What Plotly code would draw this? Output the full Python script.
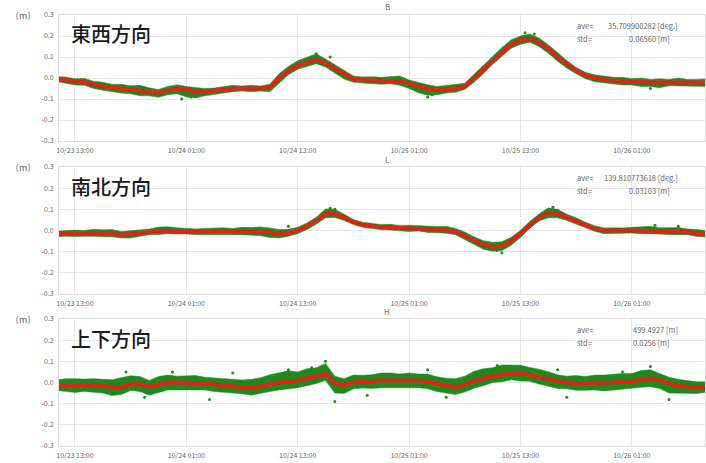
import pandas as pd
import plotly.graph_objects as go

# ---------------- data (hourly, from 10/23 11:00 to 10/26 09:00) ----------------
start_time = "2018-10-23 11:00"
n_hours = 71

panel_titles = ["B", "L", "H"]
panel_labels = ["東西方向", "南北方向", "上下方向"]
ave_texts = ["35.709900282 [deg.]", "139.810773618 [deg.]", "499.4927 [m]"]
std_texts = ["0.06560 [m]", "0.03103 [m]", "0.0256 [m]"]

# smoothed (red) series, metres
ew_smooth = [-0.005, -0.01, -0.015, -0.02, -0.03, -0.04, -0.045, -0.05, -0.055, -0.06, -0.065, -0.07,
             -0.06, -0.05, -0.055, -0.065, -0.065, -0.06, -0.055, -0.05, -0.05, -0.05, -0.05, -0.045,
             0.0, 0.035, 0.06, 0.075, 0.088, 0.07, 0.045, 0.015, -0.005, -0.01, -0.012, -0.012,
             -0.012, -0.015, -0.025, -0.04, -0.052, -0.055, -0.052, -0.05, -0.04, 0.0, 0.04, 0.085,
             0.125, 0.16, 0.18, 0.188, 0.17, 0.14, 0.1, 0.065, 0.035, 0.012, 0.0, -0.008,
             -0.012, -0.015, -0.018, -0.02, -0.022, -0.022, -0.022, -0.02, -0.022, -0.022, -0.022]
ns_smooth = [-0.015, -0.015, -0.013, -0.012, -0.012, -0.012, -0.015, -0.02, -0.018, -0.012, -0.008, -0.004,
             0.0, -0.002, -0.004, -0.005, -0.005, -0.004, -0.005, -0.005, -0.005, -0.004, -0.005, -0.008,
             -0.015, -0.012, 0.0, 0.02, 0.045, 0.08, 0.08, 0.062, 0.04, 0.027, 0.02, 0.016,
             0.014, 0.012, 0.01, 0.01, 0.006, 0.004, 0.002, -0.005, -0.025, -0.045, -0.068, -0.078,
             -0.073, -0.05, -0.015, 0.025, 0.06, 0.085, 0.08, 0.062, 0.045, 0.027, 0.008, 0.0,
             -0.002, 0.0, 0.0, 0.0, 0.0, -0.002, -0.005, -0.006, -0.008, -0.013, -0.016]
ud_smooth = [-0.012, -0.012, -0.012, -0.012, -0.012, -0.015, -0.022, -0.022, -0.008, -0.007, -0.02, -0.012,
             0.0, 0.0, 0.0, -0.002, -0.005, -0.008, -0.012, -0.018, -0.023, -0.025, -0.018, -0.008,
             0.0, 0.005, 0.01, 0.02, 0.03, 0.04, -0.005, -0.012, 0.0, 0.004, 0.007, 0.01,
             0.01, 0.01, 0.01, 0.01, 0.005, -0.003, -0.015, -0.022, -0.01, 0.008, 0.02, 0.03,
             0.038, 0.043, 0.042, 0.036, 0.028, 0.016, 0.007, 0.0, -0.002, -0.002, 0.0, 0.0,
             0.0, 0.003, 0.007, 0.012, 0.02, 0.012, -0.005, -0.015, -0.02, -0.022, -0.022]

# spread of the raw (green) points above / below the smoothed line, metres
ew_up = [0.012, 0.015, 0.012, 0.018, 0.015, 0.02, 0.015, 0.02, 0.018, 0.025, 0.018, 0.015,
         0.02, 0.018, 0.015, 0.02, 0.015, 0.012, 0.015, 0.015, 0.012, 0.015, 0.012, 0.015,
         0.02, 0.02, 0.022, 0.025, 0.028, 0.02, 0.018, 0.02, 0.015, 0.015, 0.018, 0.015,
         0.02, 0.025, 0.015, 0.018, 0.02, 0.015, 0.018, 0.02, 0.015, 0.018, 0.02, 0.02,
         0.02, 0.022, 0.02, 0.022, 0.02, 0.018, 0.02, 0.018, 0.015, 0.015, 0.015, 0.018,
         0.015, 0.018, 0.015, 0.02, 0.015, 0.018, 0.015, 0.02, 0.015, 0.015, 0.018]
ew_dn = [0.012, 0.015, 0.018, 0.015, 0.02, 0.018, 0.02, 0.022, 0.02, 0.025, 0.02, 0.022,
         0.02, 0.025, 0.035, 0.03, 0.02, 0.018, 0.015, 0.015, 0.012, 0.015, 0.012, 0.02,
         0.025, 0.02, 0.018, 0.02, 0.02, 0.018, 0.02, 0.02, 0.015, 0.015, 0.015, 0.018,
         0.015, 0.02, 0.025, 0.03, 0.03, 0.025, 0.02, 0.018, 0.015, 0.02, 0.02, 0.02,
         0.02, 0.018, 0.02, 0.018, 0.02, 0.022, 0.02, 0.018, 0.015, 0.015, 0.018, 0.015,
         0.015, 0.018, 0.015, 0.02, 0.018, 0.025, 0.015, 0.018, 0.015, 0.015, 0.018]
ns_up = [0.012, 0.015, 0.015, 0.012, 0.018, 0.015, 0.02, 0.015, 0.018, 0.015, 0.015, 0.02,
         0.018, 0.015, 0.015, 0.012, 0.015, 0.015, 0.018, 0.015, 0.02, 0.018, 0.022, 0.02,
         0.02, 0.018, 0.015, 0.015, 0.018, 0.022, 0.02, 0.015, 0.012, 0.012, 0.015, 0.012,
         0.015, 0.012, 0.015, 0.012, 0.015, 0.015, 0.018, 0.015, 0.018, 0.015, 0.02, 0.022,
         0.02, 0.018, 0.015, 0.018, 0.018, 0.022, 0.02, 0.015, 0.015, 0.012, 0.015, 0.012,
         0.015, 0.012, 0.015, 0.018, 0.02, 0.015, 0.018, 0.02, 0.015, 0.018, 0.015]
ns_dn = [0.015, 0.012, 0.015, 0.015, 0.015, 0.018, 0.015, 0.015, 0.018, 0.015, 0.012, 0.015,
         0.015, 0.015, 0.012, 0.015, 0.015, 0.015, 0.015, 0.012, 0.015, 0.018, 0.02, 0.025,
         0.02, 0.015, 0.015, 0.015, 0.015, 0.02, 0.018, 0.015, 0.012, 0.012, 0.012, 0.012,
         0.012, 0.012, 0.015, 0.012, 0.015, 0.015, 0.015, 0.015, 0.018, 0.02, 0.02, 0.02,
         0.022, 0.02, 0.018, 0.015, 0.015, 0.025, 0.02, 0.015, 0.015, 0.012, 0.012, 0.015,
         0.012, 0.015, 0.012, 0.015, 0.015, 0.015, 0.015, 0.015, 0.012, 0.015, 0.015]
ud_up = [0.025, 0.03, 0.03, 0.028, 0.03, 0.03, 0.035, 0.045, 0.04, 0.035, 0.03, 0.04,
         0.035, 0.03, 0.03, 0.035, 0.03, 0.03, 0.03, 0.035, 0.035, 0.04, 0.04, 0.045,
         0.045, 0.05, 0.04, 0.045, 0.04, 0.05, 0.035, 0.03, 0.035, 0.03, 0.03, 0.035,
         0.035, 0.03, 0.035, 0.03, 0.035, 0.03, 0.035, 0.04, 0.04, 0.045, 0.045, 0.04,
         0.045, 0.04, 0.04, 0.035, 0.035, 0.035, 0.03, 0.03, 0.035, 0.03, 0.035, 0.035,
         0.04, 0.04, 0.035, 0.045, 0.04, 0.03, 0.03, 0.03, 0.03, 0.025, 0.025]
ud_dn = [0.025, 0.03, 0.035, 0.03, 0.035, 0.035, 0.04, 0.035, 0.03, 0.035, 0.04, 0.035,
         0.035, 0.035, 0.035, 0.035, 0.03, 0.035, 0.035, 0.03, 0.03, 0.035, 0.035, 0.035,
         0.035, 0.035, 0.035, 0.035, 0.035, 0.03, 0.045, 0.04, 0.03, 0.03, 0.035, 0.035,
         0.035, 0.035, 0.035, 0.035, 0.035, 0.04, 0.035, 0.035, 0.035, 0.035, 0.035, 0.03,
         0.035, 0.03, 0.035, 0.03, 0.035, 0.035, 0.035, 0.03, 0.035, 0.035, 0.035, 0.04,
         0.035, 0.035, 0.035, 0.035, 0.04, 0.04, 0.045, 0.035, 0.03, 0.03, 0.025]

# isolated raw points lying outside the main band (hours after 10/23 00:00, metres)
ew_out_h = [24.5, 25.5, 39.0, 40.5, 51.0, 51.5, 61.5, 62.5, 75.0]
ew_out_v = [-0.10, -0.09, 0.115, 0.10, -0.09, -0.08, 0.215, 0.21, -0.05]
ns_out_h = [36.0, 40.5, 41.0, 58.5, 59.0, 64.5, 65.0, 75.5, 78.0]
ns_out_v = [0.02, 0.105, 0.10, -0.095, -0.105, 0.11, 0.095, 0.025, 0.02]
ud_out_h = [18.5, 20.5, 23.5, 27.5, 30.0, 36.0, 38.5, 40.0, 41.0, 44.5, 51.0, 53.0,
            58.5, 61.0, 65.0, 66.0, 72.0, 75.0, 77.0]
ud_out_v = [0.05, -0.07, 0.05, -0.08, 0.045, 0.06, 0.07, 0.10, -0.09, -0.06, 0.06, -0.07,
            0.08, 0.075, 0.06, -0.07, 0.05, 0.075, -0.08]

x_tick_vals = ["2018-10-23 13:00", "2018-10-24 01:00", "2018-10-24 13:00",
               "2018-10-25 01:00", "2018-10-25 13:00", "2018-10-26 01:00"]
x_tick_text = ["10/23 13:00", "10/24 01:00", "10/24 13:00",
               "10/25 01:00", "10/25 13:00", "10/26 01:00"]
y_tick_vals = [0.3, 0.2, 0.1, 0.0, -0.1, -0.2, -0.3]
y_tick_text = ["0.3", "0.2", "0.1", "0.0", "-0.1", "-0.2", "-0.3"]
x_range = ["2018-10-23 11:17", "2018-10-26 08:53"]
unit_text = "（m）"

# ---------------- figure ----------------
W, H = 706, 463
ML, MR, MT, MB = 59, 1, 15, 17
PW, PH = W - ML - MR, H - MT - MB


def px(x):
    return (x - ML) / PW


def py(y):
    return (H - MB - y) / PH


times = pd.date_range(start_time, periods=n_hours, freq="h")
day0 = pd.Timestamp("2018-10-23 00:00")
smooths = [ew_smooth, ns_smooth, ud_smooth]
ups = [ew_up, ns_up, ud_up]
dns = [ew_dn, ns_dn, ud_dn]
outs = [(ew_out_h, ew_out_v), (ns_out_h, ns_out_v), (ud_out_h, ud_out_v)]
domains_px = [(15, 141), (167, 294), (319, 446)]

GREEN = "#1e8a1e"
RED = "#dc2418"
GRID = "#e6e6e6"
TXT = "#666666"
FONT = "Noto Sans CJK JP"

fig = go.Figure()
annotations = []
for i in range(3):
    ax = "" if i == 0 else str(i + 1)
    xa, ya = "x" + ax, "y" + ax
    hi = [s + u for s, u in zip(smooths[i], ups[i])]
    lo = [s - d for s, d in zip(smooths[i], dns[i])]
    fig.add_trace(go.Scatter(x=times, y=lo, mode="lines", line=dict(width=0.5, color=GREEN),
                             xaxis=xa, yaxis=ya, showlegend=False, hoverinfo="skip"))
    fig.add_trace(go.Scatter(x=times, y=hi, mode="lines", line=dict(width=0.5, color=GREEN),
                             fill="tonexty", fillcolor=GREEN,
                             xaxis=xa, yaxis=ya, showlegend=False, hoverinfo="skip"))
    oh, ov = outs[i]
    fig.add_trace(go.Scatter(x=[day0 + pd.Timedelta(hours=h) for h in oh], y=ov, mode="markers",
                             marker=dict(size=3, color=GREEN),
                             xaxis=xa, yaxis=ya, showlegend=False, hoverinfo="skip"))
    fig.add_trace(go.Scatter(x=times, y=smooths[i], mode="lines", line=dict(width=4, color=RED),
                             xaxis=xa, yaxis=ya, showlegend=False))
    top, bot = domains_px[i]
    common = dict(showgrid=True, gridcolor=GRID, gridwidth=1, zeroline=False,
                  showline=True, linecolor="#dddddd", linewidth=1, mirror=True,
                  ticks="", tickfont=dict(size=7, color=TXT, family=FONT))
    fig.update_layout(**{
        "xaxis" + ax: dict(domain=[0, 1], anchor=ya, type="date", range=x_range,
                           tickmode="array", tickvals=x_tick_vals, ticktext=x_tick_text,
                           ticklabelstandoff=3, **common),
        "yaxis" + ax: dict(domain=[py(bot), py(top)], anchor=xa, range=[-0.3, 0.3],
                           tickmode="array", tickvals=y_tick_vals, ticktext=y_tick_text,
                           ticklabelstandoff=3, **common),
    })
    annotations.append(dict(x=px(387), y=py(top - 8), xref="paper", yref="paper", text=panel_titles[i],
                            showarrow=False, font=dict(size=8, color=TXT, family=FONT),
                            xanchor="center", yanchor="middle"))
    annotations.append(dict(x=px(8), y=py(top), xref="paper", yref="paper", text=unit_text,
                            showarrow=False, font=dict(size=9, color=TXT, family=FONT),
                            xanchor="left", yanchor="middle"))
    annotations.append(dict(x=px(69), y=py(top + 19), xref="paper", yref="paper", text=panel_labels[i],
                            showarrow=False, font=dict(size=20, color="#1a1a1a", family=FONT, weight=500),
                            xanchor="left", yanchor="middle"))
    annotations.append(dict(x=px(575), y=py(top + 10), xref="paper", yref="paper", text="ave=",
                            showarrow=False, font=dict(size=7.5, color=TXT, family=FONT),
                            xanchor="left", yanchor="middle"))
    annotations.append(dict(x=px(680), y=py(top + 10), xref="paper", yref="paper", text=ave_texts[i],
                            showarrow=False, font=dict(size=7.5, color=TXT, family=FONT),
                            xanchor="right", yanchor="middle"))
    annotations.append(dict(x=px(575), y=py(top + 23), xref="paper", yref="paper", text="std=",
                            showarrow=False, font=dict(size=7.5, color=TXT, family=FONT),
                            xanchor="left", yanchor="middle"))
    annotations.append(dict(x=px(672), y=py(top + 23), xref="paper", yref="paper", text=std_texts[i],
                            showarrow=False, font=dict(size=7.5, color=TXT, family=FONT),
                            xanchor="right", yanchor="middle"))

fig.update_layout(width=W, height=H, margin=dict(l=ML, r=MR, t=MT, b=MB),
                  plot_bgcolor="white", paper_bgcolor="white",
                  annotations=annotations, font=dict(family=FONT))
fig.write_html("out.html", config={"displayModeBar": False},
               post_script="document.body.style.margin='0';")
